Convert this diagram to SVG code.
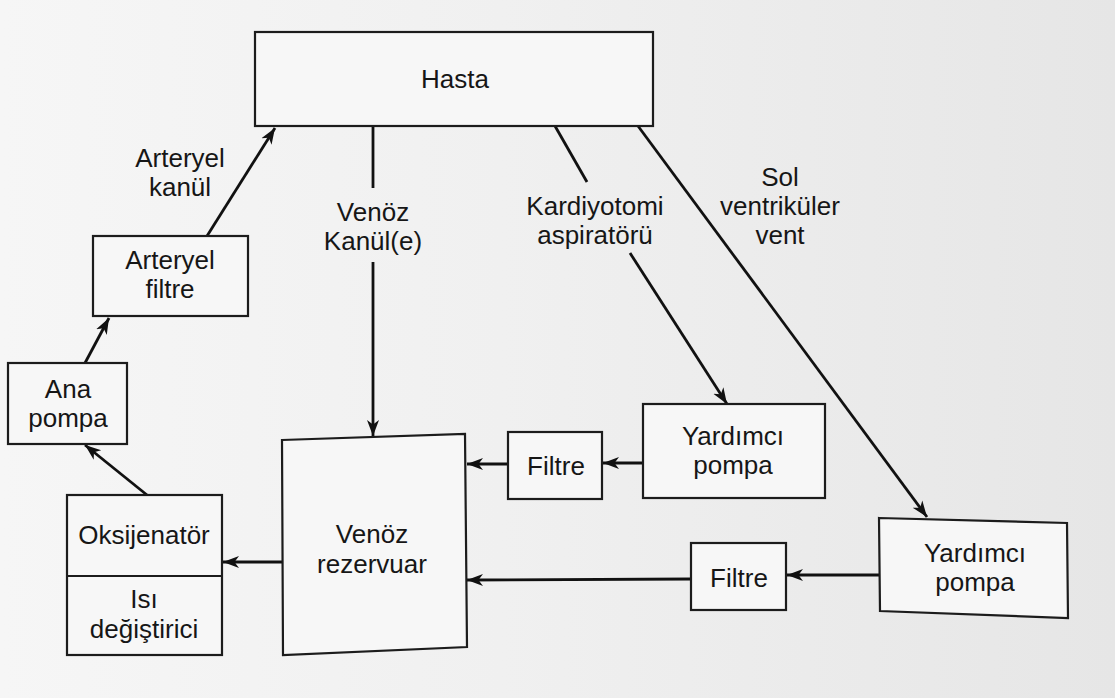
<svg xmlns="http://www.w3.org/2000/svg" width="1115" height="698" viewBox="0 0 1115 698">
  <defs>
    <linearGradient id="bg" x1="0" y1="0" x2="1" y2="0">
      <stop offset="0" stop-color="#f6f6f6"/>
      <stop offset="0.45" stop-color="#f0f0f0"/>
      <stop offset="1" stop-color="#e6e6e6"/>
    </linearGradient>
    <marker id="arr" markerUnits="userSpaceOnUse" markerWidth="18" markerHeight="14" refX="16" refY="7" orient="auto">
      <path d="M0,1 L16,7 L0,13 L4.5,7 z" fill="#111"/>
    </marker>
    <style>
      .box { fill: #f7f7f7; stroke: #1c1c1c; stroke-width: 2.2; }
      .lbl { font-family: "Liberation Sans", Arial, sans-serif; font-size: 26px; fill: #161616; text-anchor: middle; }
      .ln { stroke: #111; stroke-width: 2.8; fill: none; }
      .ar { marker-end: url(#arr); }
    </style>
  </defs>
  <rect x="0" y="0" width="1115" height="698" fill="url(#bg)"/>

  <g id="connectors">
    <path class="ln ar" d="M207,236 L275,128"/>
    <path class="ln ar" d="M85,363 L109,318"/>
    <path class="ln ar" d="M147,495 L85,445"/>
    <path class="ln ar" d="M282,562 L223,562"/>
    <path class="ln" d="M373,126 L373,188"/>
    <path class="ln ar" d="M373,262 L373,436"/>
    <path class="ln" d="M555,126 L587,182"/>
    <path class="ln ar" d="M630,253 L727,404"/>
    <path class="ln ar" d="M638,126 L927,517"/>
    <path class="ln ar" d="M643,463 L603,463"/>
    <path class="ln ar" d="M508,464 L467,464"/>
    <path class="ln ar" d="M879,575 L787,575"/>
    <path class="ln ar" d="M691,579 L467,580"/>
  </g>

  <g id="edge-labels">
    <text class="lbl" x="180" y="167">Arteryel</text>
    <text class="lbl" x="180" y="196">kanül</text>
    <text class="lbl" x="373" y="221">Venöz</text>
    <text class="lbl" x="373" y="250">Kanül(e)</text>
    <text class="lbl" x="595" y="215">Kardiyotomi</text>
    <text class="lbl" x="595" y="244">aspiratörü</text>
    <text class="lbl" x="780" y="186">Sol</text>
    <text class="lbl" x="780" y="215">ventriküler</text>
    <text class="lbl" x="780" y="244">vent</text>
  </g>

  <g id="hasta">
    <rect class="box" x="255" y="32" width="398" height="94"/>
    <text class="lbl" x="455" y="88">Hasta</text>
  </g>

  <g id="arteryel-filtre">
    <rect class="box" x="93" y="236" width="155" height="80"/>
    <text class="lbl" x="170" y="269">Arteryel</text>
    <text class="lbl" x="170" y="298">filtre</text>
  </g>

  <g id="ana-pompa">
    <rect class="box" x="8" y="363" width="119" height="81"/>
    <text class="lbl" x="68" y="398">Ana</text>
    <text class="lbl" x="68" y="427">pompa</text>
  </g>

  <g id="oksijenator">
    <rect class="box" x="67" y="495" width="155" height="160"/>
    <line x1="67" y1="576" x2="222" y2="576" stroke="#1c1c1c" stroke-width="2.2"/>
    <text class="lbl" x="144" y="544">Oksijenatör</text>
    <text class="lbl" x="144" y="608">Isı</text>
    <text class="lbl" x="144" y="638">değiştirici</text>
  </g>

  <g id="venoz-rezervuar">
    <polygon class="box" points="282,440 465,434 467,647 283,655"/>
    <text class="lbl" x="372" y="543">Venöz</text>
    <text class="lbl" x="372" y="573">rezervuar</text>
  </g>

  <g id="filtre-1">
    <rect class="box" x="508" y="432" width="94" height="67"/>
    <text class="lbl" x="556" y="475">Filtre</text>
  </g>

  <g id="yardimci-pompa-1">
    <rect class="box" x="643" y="404" width="182" height="94"/>
    <text class="lbl" x="733" y="445">Yardımcı</text>
    <text class="lbl" x="733" y="474">pompa</text>
  </g>

  <g id="filtre-2">
    <rect class="box" x="691" y="543" width="95" height="67"/>
    <text class="lbl" x="739" y="587">Filtre</text>
  </g>

  <g id="yardimci-pompa-2">
    <polygon class="box" points="879,518 1067,523 1068,618 880,611"/>
    <text class="lbl" x="975" y="562">Yardımcı</text>
    <text class="lbl" x="975" y="591">pompa</text>
  </g>
</svg>
